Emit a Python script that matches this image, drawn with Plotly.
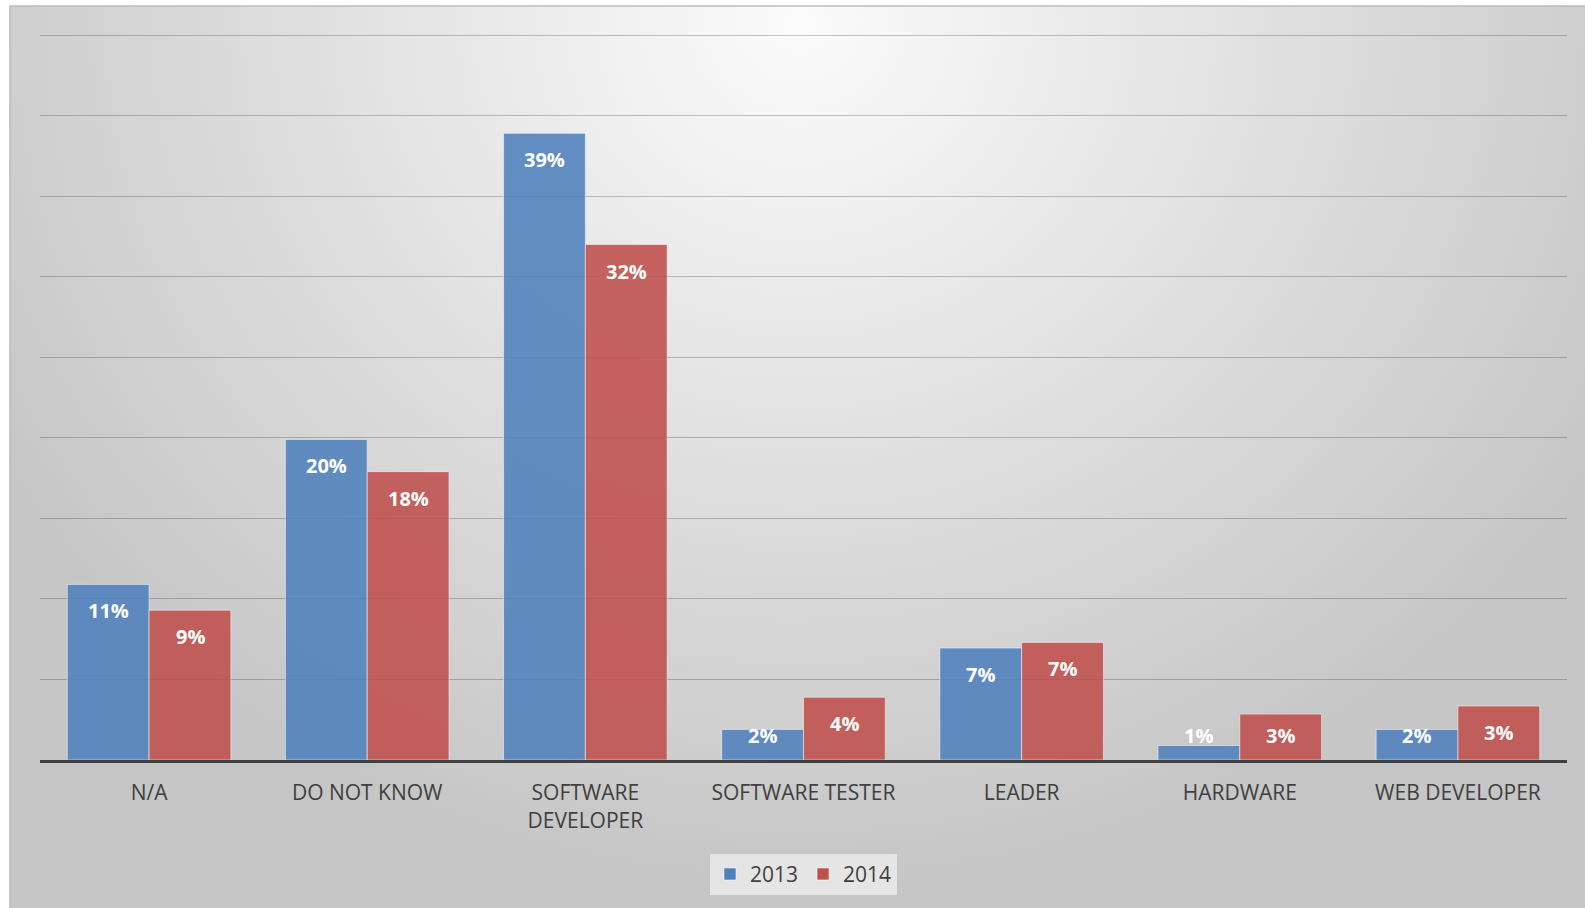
"""
Job roles survey, 2013 vs 2014 - grouped bar chart
"""

import plotly.graph_objects as go

categories = ['N/A', 'DO NOT KNOW', 'SOFTWARE<br>DEVELOPER', 'SOFTWARE TESTER',
              'LEADER', 'HARDWARE', 'WEB DEVELOPER']
values_2013 = [10.9, 19.9, 38.9, 1.9, 6.95, 0.9, 1.9]
values_2014 = [9.3, 17.9, 32.0, 3.9, 7.3, 2.85, 3.35]
labels_2013 = ['11%', '20%', '39%', '2%', '7%', '1%', '2%']
labels_2014 = ['9%', '18%', '32%', '4%', '7%', '3%', '3%']

FONT = 'Open Sans'

# radial background like the Excel chart area
bg_svg = (
    "data:image/svg+xml;utf8,"
    "<svg xmlns='http://www.w3.org/2000/svg' width='1575' height='902' "
    "preserveAspectRatio='none' viewBox='0 0 1575 902'>"
    "<defs><radialGradient id='g' cx='0.5' cy='0.02' r='0.95' "
    "gradientTransform='translate(0.5,0.02) scale(0.62,1) translate(-0.5,-0.02)'>"
    "<stop offset='0' stop-color='%23fbfbfb'/>"
    "<stop offset='0.55' stop-color='%23dedede'/>"
    "<stop offset='1' stop-color='%23c6c6c6'/>"
    "</radialGradient></defs>"
    "<rect width='1575' height='902' fill='url(%23g)'/></svg>"
)

fig = go.Figure()

fig.add_trace(go.Bar(
    x=categories, y=values_2013, name='2013',
    marker=dict(color='#4f81bd', opacity=0.88,
                line=dict(color='rgba(255,255,255,0.55)', width=1)),
))
fig.add_trace(go.Bar(
    x=categories, y=values_2014, name='2014',
    marker=dict(color='#c0504d', opacity=0.88,
                line=dict(color='rgba(255,255,255,0.55)', width=1)),
))

# data labels, inside end of each bar (kept above the axis for tiny bars)
for vals, labs, shift in [(values_2013, labels_2013, -41), (values_2014, labels_2014, 41)]:
    for cat, v, lab in zip(categories, vals, labs):
        fig.add_annotation(
            x=cat, y=max(v - 1.65, 1.5), xshift=shift,
            text=f'<b>{lab}</b>', showarrow=False, yanchor='middle',
            font=dict(family=FONT, size=20, color='white'),
        )

# plot area: x 40..1567, y 27..760 (px)
fig.add_layout_image(
    source=bg_svg, xref='paper', yref='paper',
    x=-0.0197, y=1.0287, sizex=1.0315, sizey=1.2306,
    xanchor='left', yanchor='top', sizing='stretch', layer='below',
)
fig.add_shape(
    type='rect', xref='paper', yref='paper',
    x0=-0.0197, x1=1.02, y0=-0.21, y1=1.0287,
    line=dict(color='#bdbdbd', width=1.5), layer='below',
)

fig.update_layout(
    width=1585, height=908,
    margin=dict(l=40, r=18, t=27, b=148),
    paper_bgcolor='white',
    plot_bgcolor='rgba(0,0,0,0)',
    barmode='group',
    bargap=0.25,
    bargroupgap=0,
    font=dict(family=FONT, color='#404040'),
    showlegend=True,
    legend=dict(
        orientation='h', x=0.5, xanchor='center', y=-0.156, yanchor='middle',
        bgcolor='rgba(232,232,232,0.9)', font=dict(family=FONT, size=21, color='#404040'),
        itemwidth=30,
    ),
)

fig.update_xaxes(
    showline=True, linecolor='#404040', linewidth=3,
    tickfont=dict(family=FONT, size=21, color='#404040'),
    ticks='', showgrid=False, ticklabelstandoff=12,
)
fig.update_yaxes(
    range=[0, 45.5], dtick=5, showticklabels=False,
    showgrid=True, gridcolor='rgba(0,0,0,0.22)', gridwidth=1,
    zeroline=False,
)

fig.write_html("out.html", config={'displayModeBar': False},
               post_script="document.body.style.margin='0px';")
